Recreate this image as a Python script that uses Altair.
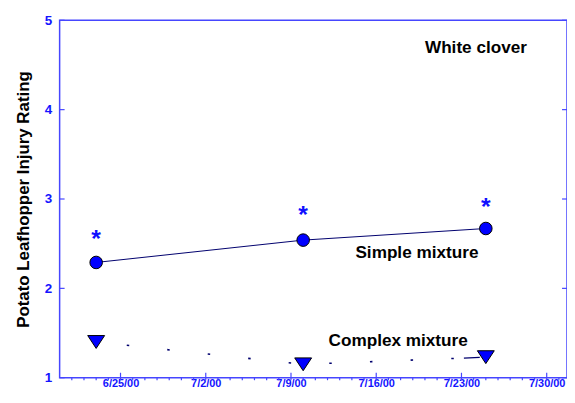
import altair as alt
import pandas as pd
from datetime import datetime, timezone

# ---- data ----
dates = ["2000-06-23", "2000-07-10", "2000-07-25"]
simple_mixture = [2.29, 2.54, 2.67]
complex_mixture = [1.40, 1.15, 1.23]
signif_y = [2.60, 2.87, 2.96]          # asterisks (significant difference)
y_ticks = [1, 2, 3, 4, 5]
major_dates = ["2000-06-25", "2000-07-02", "2000-07-09", "2000-07-16", "2000-07-23", "2000-07-30"]
label_text = ["White clover", "Simple mixture", "Complex mixture"]
label_date = ["2000-07-20T00:00:00Z", "2000-07-14T07:00:00Z", "2000-07-12T02:00:00Z"]
label_y = [4.69, 2.39, 1.41]

W, H = 511, 360
AXIS_BLUE = "#4646ff"
LABEL_BLUE = "#1414ff"
FONT = "Liberation Sans"

def ms(y, m, d, h=0):
    return int(datetime(y, m, d, h, tzinfo=timezone.utc).timestamp() * 1000)

day_ticks = [ms(2000, 6, 21) + k * 86400000 for k in range(41)]
T0 = ms(2000, 6, 25)

df = pd.DataFrame({"date": dates, "simple": simple_mixture,
                   "complex": complex_mixture, "sig": signif_y,
                   "seg": [0, 1, 1]})
ticks_df = pd.DataFrame({"v": y_ticks})
major_df = pd.DataFrame({"date": major_dates})
minor_df = pd.DataFrame({"date": day_ticks})
lab_df = pd.DataFrame({"text": label_text, "date": label_date, "y": label_y})

xscale = alt.Scale(type="utc", domain=[ms(2000, 6, 20), ms(2000, 7, 31, 16)])
yscale = alt.Scale(domain=[1, 5])

x_axis = alt.Axis(values=day_ticks, ticks=False, labelPadding=0, domain=False,
                  grid=False, title=None, labelOverlap=False, labelFlush=False,
                  labelBound=False, labelFont=FONT, labelFontSize=11,
                  labelExpr=f"(datum.value - {T0}) % 604800000 === 0 ? utcFormat(datum.value, '%-m/%-d/%y') : ''")
y_axis = alt.Axis(values=y_ticks, ticks=False, labelPadding=8, domain=False, grid=False,
                  format="d", title="Potato Leafhopper Injury Rating", titlePadding=12,
                  labelOverlap=False, labelFont=FONT, labelFontSize=13.5)

def X():
    return alt.X("date:T", scale=xscale, axis=x_axis)

def Y(field):
    return alt.Y(f"{field}:Q", scale=yscale, axis=y_axis)

base = alt.Chart(df)

simple_line = base.mark_line(color="#00006e", strokeWidth=1).encode(x=X(), y=Y("simple"))
complex_line = base.mark_line(color="#00006e", strokeWidth=1.6, strokeDash=[2.5, 38.5],
                              strokeDashOffset=10).encode(x=X(), y=Y("complex"))
complex_tail = base.transform_filter("datum.seg == 1").mark_line(
    color="#00006e", strokeWidth=1.2, strokeDash=[0, 162, 16, 300]).encode(
    x=X(), y=Y("complex"))
circles = base.mark_point(shape="circle", filled=True, size=160, fill="#0000ff",
                          stroke="black", strokeWidth=1, opacity=1).encode(
    x=X(), y=Y("simple"))
triangles = base.mark_point(shape="M-1,-0.76L1,-0.76L0,0.76Z", filled=True, size=290,
                            fill="#0000ff", stroke="black", strokeWidth=1, opacity=1).encode(
    x=X(), y=Y("complex"))
stars = base.mark_text(text="*", font=FONT, fontWeight="bold", fontSize=25,
                       color="#1010ff", baseline="alphabetic", dy=12.5).encode(
    x=X(), y=Y("sig"))

labels = alt.Chart(lab_df).mark_text(font=FONT, fontWeight="bold", fontSize=17.3,
                                     color="black", align="left", baseline="middle").encode(
    x=X(), y=Y("y"), text="text:N")

xmajor = alt.Chart(major_df).mark_rule(color=AXIS_BLUE, strokeWidth=1.2).encode(
    x=X(), y=alt.value(H), y2=alt.value(H - 5))
xminor = alt.Chart(minor_df).mark_rule(color=AXIS_BLUE, strokeWidth=1.2).encode(
    x=X(), y=alt.value(H), y2=alt.value(H + 2.5))
yleft = alt.Chart(ticks_df).mark_rule(color=AXIS_BLUE, strokeWidth=1.2).encode(
    y=Y("v"), x=alt.value(0), x2=alt.value(5))
yright = alt.Chart(ticks_df).mark_rule(color=AXIS_BLUE, strokeWidth=1.2).encode(
    y=Y("v"), x=alt.value(W), x2=alt.value(W - 5))

chart = alt.layer(
    simple_line, xmajor, xminor, yleft, yright, complex_line, complex_tail,
    circles, triangles, stars, labels
).properties(
    width=W, height=H,
    autosize=alt.AutoSizeParams(type="none"),
    padding={"left": 52, "top": 11, "right": 0, "bottom": 12},
).configure_view(
    stroke=AXIS_BLUE, strokeWidth=1.5
).configure_axis(
    labelFontWeight="bold", labelColor=LABEL_BLUE,
    titleFont=FONT, titleFontWeight="bold", titleFontSize=17, titleColor="black"
)

chart.save("out.html", embed_options={"renderer": "svg", "actions": False})
